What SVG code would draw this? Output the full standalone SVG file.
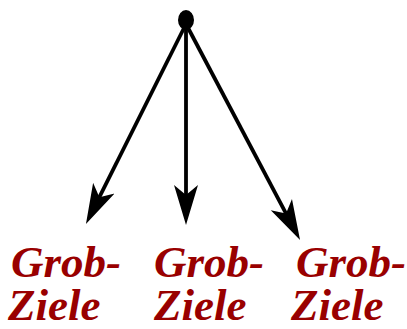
<svg xmlns="http://www.w3.org/2000/svg" width="407" height="329" viewBox="0 0 407 329">
<defs>
<marker id="ah" markerUnits="userSpaceOnUse" markerWidth="40" markerHeight="26" refX="20" refY="13" orient="auto" viewBox="0 0 40 26">
<path d="M0,1 L40,13 L0,25 L10,13 Z" fill="#000"/>
</marker>
<style>
.lbl{font-family:"Liberation Serif",serif;font-weight:bold;font-style:italic;font-size:45px;fill:#990000}
.edge{stroke:#000;stroke-width:3.8;fill:none}
</style>
</defs>
<g id="root"><ellipse cx="186" cy="20" rx="8" ry="10" fill="#000"/></g>
<g id="connectors">
<line class="edge" x1="186" y1="24" x2="94.9" y2="206.1" marker-end="url(#ah)"/>
<line class="edge" x1="186" y1="24" x2="186" y2="205" marker-end="url(#ah)"/>
<line class="edge" x1="186" y1="24" x2="290.7" y2="222.3" marker-end="url(#ah)"/>
</g>
<g id="n1"><text class="lbl"><tspan x="11" y="277">Grob-</tspan><tspan x="8" y="320">Ziele</tspan></text></g>
<g id="n2"><text class="lbl"><tspan x="154" y="277">Grob-</tspan><tspan x="154" y="320">Ziele</tspan></text></g>
<g id="n3"><text class="lbl"><tspan x="296" y="277">Grob-</tspan><tspan x="291" y="320">Ziele</tspan></text></g>
</svg>
